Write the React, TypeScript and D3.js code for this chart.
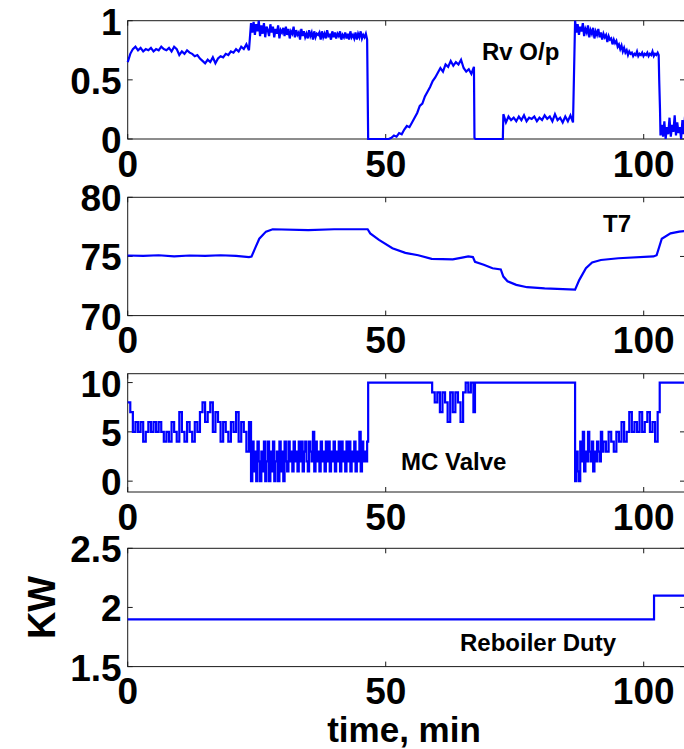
import React from 'react';
import * as d3 from 'd3';

type Pt = [number, number];

// ---------- shared axis ----------
const timeDomain: [number, number] = [0, 108];
const timeTicks = [0, 50, 100];

// ---------- Rv O/p ----------
const rvTicks = [0, 0.5, 1];
const rvTickLabels = ['0', '0.5', '1'];
// t = 0 .. 23.5 every 0.5 min
const rvA = [
  0.65, 0.72, 0.76, 0.78, 0.75, 0.77, 0.74, 0.76, 0.75, 0.77,
  0.74, 0.76, 0.75, 0.78, 0.76, 0.75, 0.77, 0.74, 0.78, 0.76,
  0.71, 0.74, 0.72, 0.75, 0.73, 0.72, 0.70, 0.71, 0.68, 0.66,
  0.64, 0.67, 0.65, 0.69, 0.64, 0.68, 0.70, 0.69, 0.72, 0.71,
  0.74, 0.73, 0.76, 0.74, 0.78, 0.76, 0.80, 0.75,
];
// t = 23.9 .. 46.4 every 0.25 min
const rvB = [
  0.98, 0.90, 0.99, 0.88, 0.97, 0.91, 1.00, 0.87, 0.96, 0.89,
  0.98, 0.86, 0.95, 0.92, 0.87, 0.97, 0.90, 0.95, 0.86, 0.93,
  0.89, 0.96, 0.85, 0.92, 0.90, 0.94, 0.87, 0.95, 0.88, 0.93,
  0.85, 0.91, 0.89, 0.95, 0.86, 0.92, 0.88, 0.90, 0.84, 0.93,
  0.87, 0.91, 0.86, 0.89, 0.85, 0.92, 0.87, 0.90, 0.84, 0.91,
  0.86, 0.89, 0.88, 0.90, 0.84, 0.91, 0.86, 0.89, 0.85, 0.92,
  0.87, 0.88, 0.84, 0.91, 0.86, 0.90, 0.85, 0.89, 0.87, 0.91,
  0.84, 0.88, 0.86, 0.90, 0.85, 0.89, 0.84, 0.91, 0.86, 0.88,
  0.85, 0.90, 0.84, 0.89, 0.86, 0.91, 0.85, 0.88, 0.86, 0.89,
  0.84,
];
// t = 46.6 .. 67.1 every 0.5 min
const rvC = [
  0, 0, 0, 0, 0, 0, 0, 0, 0, 0.01,
  0.03, 0.02, 0.05, 0.04, 0.08, 0.11, 0.10, 0.14, 0.18, 0.22,
  0.28, 0.30, 0.36, 0.40, 0.44, 0.49, 0.52, 0.56, 0.60, 0.57,
  0.63, 0.61, 0.66, 0.62, 0.65, 0.63, 0.67, 0.60, 0.57, 0.59,
  0.55, 0.61,
];
// flat zero 67.2 .. 72.7
const rvD: Pt[] = [[67.2, 0.01], [67.4, 0], [72.7, 0]];
// t = 72.8 .. 86.3 every 0.5 min
const rvE = [
  0.21, 0.14, 0.19, 0.16, 0.18, 0.15, 0.19, 0.16, 0.20, 0.15,
  0.18, 0.17, 0.19, 0.15, 0.18, 0.16, 0.20, 0.17, 0.19, 0.15,
  0.21, 0.16, 0.18, 0.14, 0.19, 0.15, 0.20, 0.14,
];
// t = 86.7 .. 102.7 every 0.25 min
const rvF = [
  1.00, 0.90, 0.97, 0.88, 0.95, 0.91, 0.98, 0.87, 0.93, 0.90,
  0.96, 0.86, 0.92, 0.89, 0.94, 0.85, 0.91, 0.88, 0.93, 0.86,
  0.90, 0.84, 0.89, 0.86, 0.88, 0.82, 0.87, 0.84, 0.85, 0.80,
  0.84, 0.81, 0.83, 0.78, 0.80, 0.76, 0.79, 0.74, 0.77, 0.73,
  0.75, 0.71, 0.74, 0.72, 0.73, 0.70, 0.72, 0.71, 0.74, 0.70,
  0.72, 0.71, 0.73, 0.70, 0.72, 0.71, 0.73, 0.70, 0.72, 0.71,
  0.74, 0.70, 0.72, 0.71, 0.73,
];
const rvG: Pt[] = [[102.9, 0.71], [103.0, 0.5], [103.15, 0.26], [103.25, 0.03]];
// t = 103.5 .. 108 every 0.25 min
const rvH = [
  0.12, 0.02, 0.15, 0.0, 0.10, 0.04, 0.18, 0.02, 0.12, 0.06,
  0.20, 0.03, 0.14, 0.05, 0.10, 0.0, 0.16, 0.04, 0.19,
];

// ---------- T7 ----------
const t7Ticks = [70, 75, 80];
const t7TickLabels = ['70', '75', '80'];
const t7Data: Pt[] = [
  [0, 75.08], [3, 75.05], [6, 75.1], [9, 75.0], [12, 75.08], [15, 75.05], [18, 75.1],
  [21, 75.05], [23.5, 74.95], [24, 75.0], [24.7, 75.7], [25.5, 76.5], [26.8, 77.1],
  [28.1, 77.3], [35, 77.22], [40, 77.3], [46.5, 77.3], [47, 76.95], [48.7, 76.4],
  [51.3, 75.7], [53.8, 75.3], [56.3, 75.1], [58.9, 74.8], [63, 74.75], [64.8, 74.9],
  [66, 75.0], [66.9, 74.95], [67.3, 74.55], [69, 74.3], [70.7, 74.0], [72.3, 73.9],
  [72.8, 73.3], [73.6, 72.9], [75.3, 72.6], [77.4, 72.4], [80.8, 72.3], [86.7, 72.2],
  [87.5, 73.0], [88.8, 74.0], [90, 74.5], [91.7, 74.7], [95.1, 74.85], [101.9, 75.0],
  [102.5, 75.1], [103.5, 76.5], [105.2, 76.95], [106.9, 77.1], [108, 77.15],
];

// ---------- MC Valve ----------
const mcTicks = [0, 5, 10];
const mcTickLabels = ['0', '5', '10'];
// t = 0 .. 23.5 every 0.5 min
const mcA = [
  8, 7, 5, 6, 5, 6, 4, 5, 6, 5,
  6, 5, 6, 5, 4, 5, 4, 6, 5, 4,
  7, 5, 4, 6, 5, 4, 6, 5, 7, 8,
  6, 7, 8, 5, 7, 6, 4, 6, 5, 4,
  6, 5, 7, 4, 6, 5, 3, 6,
];
// t = 23.9 .. 46.4 every 0.25 min
const mcB = [
  0, 4, 1, 3, 0, 4, 2, 0, 3, 1,
  4, 0, 2, 4, 0, 3, 1, 4, 0, 2,
  3, 0, 4, 1, 3, 0, 4, 2, 1, 4,
  2, 3, 1, 4, 2, 3, 1, 4, 2, 4,
  1, 3, 4, 2, 1, 4, 3, 2, 5, 1,
  4, 2, 3, 1, 4, 2, 3, 1, 4, 2,
  4, 1, 3, 2, 4, 1, 3, 2, 4, 1,
  4, 2, 3, 1, 4, 2, 4, 1, 3, 2,
  4, 1, 3, 2, 5, 1, 4, 2, 3, 2,
  4,
];
const mcC: Pt[] = [[46.6, 10]];
// t = 59 .. 67 every 0.5 min
const mcD = [9, 8, 9, 7, 9, 8, 6, 9, 7, 9, 8, 6, 9, 10, 9, 10, 7];
const mcE: Pt[] = [[67.3, 10]];
// t = 86.7 .. 91.95 every 0.25 min
const mcF = [0, 3, 1, 0, 4, 2, 5, 1, 3, 2, 5, 3, 2, 4, 1, 3, 2, 4, 3, 2, 5, 3];
// t = 92.2 .. 102.7 every 0.5 min
const mcG = [4, 3, 5, 4, 3, 5, 4, 6, 4, 5, 7, 5, 6, 5, 7, 5, 6, 7, 5, 6, 4, 7];
const mcH: Pt[] = [[103.1, 10], [108, 10]];

// ---------- Reboiler Duty ----------
const dutyTicks = [1.5, 2, 2.5];
const dutyTickLabels = ['1.5', '2', '2.5'];
const dutyData: Pt[] = [[0, 1.9], [102, 1.9], [102, 2.1], [108, 2.1]];

// ---------- helpers ----------
function sampled(t0: number, dt: number, values: number[]): Pt[] {
  return values.map((v, i) => [t0 + i * dt, v] as Pt);
}

const rvData: Pt[] = [
  ...sampled(0, 0.5, rvA),
  ...sampled(23.9, 0.25, rvB),
  ...sampled(46.6, 0.5, rvC),
  ...rvD,
  ...sampled(72.8, 0.5, rvE),
  ...sampled(86.7, 0.25, rvF),
  ...rvG,
  ...sampled(103.5, 0.25, rvH),
];

const mcData: Pt[] = [
  ...sampled(0, 0.5, mcA),
  ...sampled(23.9, 0.25, mcB),
  ...mcC,
  ...sampled(59, 0.5, mcD),
  ...mcE,
  ...sampled(86.7, 0.25, mcF),
  ...sampled(92.2, 0.5, mcG),
  ...mcH,
];

// ---------- layout ----------
const W = 684;
const H = 749;
const LEFT = 127.7;
const RIGHT = 685;
const PH = 118.3;
const FONT = "'Liberation Sans', Arial, Helvetica, sans-serif";
const BLUE = '#0000ff';

interface Panel {
  top: number;
  data: Pt[];
  domain: [number, number];
  ticks: number[];
  labels: string[];
  step: boolean;
  note: string;
  noteX: number;
  noteY: number;
}

const panels: Panel[] = [
  { top: 20.7, data: rvData, domain: [0, 1], ticks: rvTicks, labels: rvTickLabels, step: false, note: 'Rv O/p', noteX: 482, noteY: 59.5 },
  { top: 197.3, data: t7Data, domain: [70, 80], ticks: t7Ticks, labels: t7TickLabels, step: false, note: 'T7', noteX: 603, noteY: 231.7 },
  { top: 373.7, data: mcData, domain: [-1.1, 10.9], ticks: mcTicks, labels: mcTickLabels, step: true, note: 'MC Valve', noteX: 401, noteY: 470 },
  { top: 548.3, data: dutyData, domain: [1.5, 2.5], ticks: dutyTicks, labels: dutyTickLabels, step: false, note: 'Reboiler Duty', noteX: 460, noteY: 651 },
];

const x = d3.scaleLinear().domain(timeDomain).range([LEFT, RIGHT]);

function PanelView({ p }: { p: Panel }) {
  const bottom = p.top + PH;
  const y = d3.scaleLinear().domain(p.domain).range([bottom, p.top]);
  const line = d3
    .line<Pt>()
    .x((d) => x(d[0]))
    .y((d) => y(d[1]))
    .curve(p.step ? d3.curveStepAfter : d3.curveLinear);
  const TL = 5;
  return (
    <g>
      <rect x={LEFT} y={p.top} width={RIGHT - LEFT} height={PH} fill="#fff" stroke="#1a1a1a" strokeWidth={1} />
      {timeTicks.map((t) => (
        <g key={'xt' + t}>
          <line x1={x(t)} x2={x(t)} y1={bottom} y2={bottom - TL} stroke="#1a1a1a" strokeWidth={1} />
          <line x1={x(t)} x2={x(t)} y1={p.top} y2={p.top + TL} stroke="#1a1a1a" strokeWidth={1} />
          <text x={x(t)} y={bottom + 37.5} textAnchor="middle" fontFamily={FONT} fontWeight="bold" fontSize={37} fill="#000">
            {String(t)}
          </text>
        </g>
      ))}
      {p.ticks.map((v, i) => (
        <g key={'yt' + v}>
          <line x1={LEFT} x2={LEFT + TL} y1={y(v)} y2={y(v)} stroke="#1a1a1a" strokeWidth={1} />
          <line x1={RIGHT} x2={RIGHT - TL} y1={y(v)} y2={y(v)} stroke="#1a1a1a" strokeWidth={1} />
          <text x={LEFT - 6} y={y(v) + 14} textAnchor="end" fontFamily={FONT} fontWeight="bold" fontSize={37} fill="#000">
            {p.labels[i]}
          </text>
        </g>
      ))}
      <path d={line(p.data) || ''} fill="none" stroke={BLUE} strokeWidth={2.2} strokeLinejoin="miter" />
      <text x={p.noteX} y={p.noteY} fontFamily={FONT} fontWeight="bold" fontSize={24} fill="#000">
        {p.note}
      </text>
    </g>
  );
}

export default function App() {
  return (
    <svg width={W} height={H} style={{ position: 'absolute', left: 0, top: 0, background: '#fff' }}>
      <rect x={0} y={0} width={W} height={H} fill="#fff" />
      {panels.map((p, i) => (
        <PanelView key={i} p={p} />
      ))}
      <text
        transform={`translate(55,${548.3 + PH / 2}) rotate(-90)`}
        textAnchor="middle"
        fontFamily={FONT}
        fontWeight="bold"
        fontSize={38}
        fill="#000"
      >
        KW
      </text>
      <text x={404} y={742} textAnchor="middle" fontFamily={FONT} fontWeight="bold" fontSize={35} fill="#000">
        time, min
      </text>
    </svg>
  );
}
